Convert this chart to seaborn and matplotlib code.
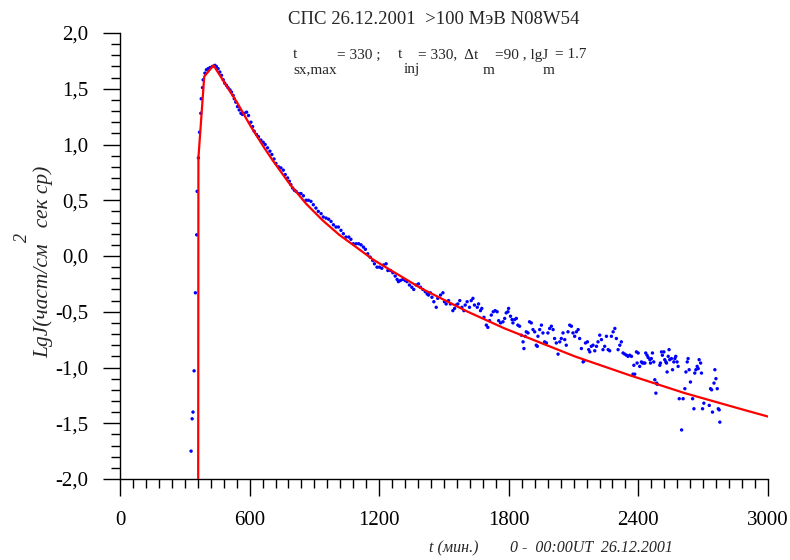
import matplotlib
matplotlib.use("Agg")
import matplotlib.pyplot as plt
import pandas as pd
import seaborn as sns
from matplotlib.ticker import FixedLocator, MultipleLocator, FuncFormatter

# ---- observed >100 MeV intensity (blue dots) ----
obs_t = [329, 334, 338, 343, 349, 355, 357, 363, 368, 374, 376, 382, 385, 393, 400, 408, 417,
         428, 439, 446, 454, 462, 470, 478, 485, 493, 500, 509, 516, 524, 529, 536, 544,
         552, 560, 567, 575, 586, 595, 606, 614, 621, 632, 641, 652, 663, 672, 683, 694, 703,
         713, 722, 734, 745, 756, 765, 776, 784, 791, 799, 807, 815, 827, 838, 849, 861, 872,
         884, 895, 907, 918, 931, 941, 954, 966, 977, 988, 1000, 1011, 1023, 1034, 1046, 1059,
         1069, 1080, 1093, 1105, 1116, 1127, 1136, 1147, 1158, 1170,
         1178, 1190, 1201, 1212, 1221, 1232, 1240, 1252, 1263, 1274, 1283, 1289, 1298, 1309,
         1320, 1329, 1340, 1351, 1360, 1371, 1382, 1391, 1402, 1413, 1422, 1428, 1437, 1444,
         1453, 1464, 1471, 1484, 1495, 1502, 1510, 1521, 1530, 1541, 1549, 1556, 1564, 1573,
         1583, 1592, 1598, 1607, 1618, 1626, 1634, 1641, 1654, 1660, 1669, 1675, 1685, 1696,
         1703, 1711, 1719, 1728, 1737, 1746, 1753, 1762, 1773,
         1781, 1788, 1796, 1799, 1808, 1815, 1819, 1827, 1835, 1842, 1850, 1858, 1866, 1870,
         1876, 1881, 1889, 1896, 1904, 1912, 1920, 1927, 1932, 1935, 1943, 1951, 1958, 1966,
         1974, 1981, 1989, 1997, 2005, 2012, 2020, 2028, 2036, 2043, 2051, 2059, 2066, 2074,
         2082, 2090, 2097, 2105, 2113, 2121, 2128, 2136, 2144, 2148, 2155, 2164, 2170, 2175,
         2182, 2190, 2198, 2206, 2213, 2221, 2229, 2236, 2244, 2252, 2260, 2267, 2275, 2283,
         2291, 2298, 2306, 2314, 2321, 2329, 2337, 2345, 2352,
         2360, 2368, 2375, 2379, 2383, 2391, 2394, 2399, 2406, 2414, 2419, 2425, 2430, 2434,
         2440, 2445, 2453, 2456, 2460, 2465, 2471, 2476, 2481, 2484, 2487, 2499, 2502, 2507,
         2511, 2518, 2522, 2527, 2530, 2533, 2538, 2542, 2545, 2553, 2558, 2564, 2569, 2573,
         2579, 2584, 2589, 2600, 2607, 2615, 2620, 2626, 2630, 2635, 2641, 2651, 2657, 2661,
         2666, 2672, 2677, 2681, 2688, 2692, 2697, 2703, 2728, 2734, 2739, 2743, 2750, 2754,
         2759, 2765, 2770, 2774, 2777]
obs_lgj = [-1.75, -1.46, -1.40, -1.03, -0.33, 0.19, 0.58, 0.88, 1.11, 1.28, 1.41, 1.51, 1.58,
           1.64, 1.67, 1.68, 1.69, 1.70, 1.71, 1.70, 1.68, 1.65, 1.62, 1.58, 1.55, 1.53, 1.51,
           1.49, 1.47, 1.44, 1.41, 1.38, 1.34,
           1.31, 1.28, 1.27, 1.28, 1.29, 1.26, 1.20, 1.16, 1.12, 1.09, 1.07, 1.04, 1.02, 1.00,
           0.97, 0.94, 0.91, 0.87, 0.83, 0.80, 0.79, 0.77, 0.73, 0.70, 0.67, 0.64, 0.61, 0.59,
           0.58, 0.56, 0.56, 0.54, 0.50, 0.50, 0.49, 0.46, 0.43, 0.40, 0.38, 0.35, 0.34, 0.33,
           0.31, 0.28, 0.26, 0.26, 0.23, 0.20, 0.17, 0.17, 0.15, 0.11, 0.11, 0.11, 0.10, 0.08,
           0.06, 0.02, -0.01, -0.04,
           -0.07, -0.10, -0.10, -0.11, -0.08, -0.07, -0.13, -0.13, -0.15, -0.18, -0.21, -0.23,
           -0.22, -0.21, -0.22, -0.23, -0.26, -0.28, -0.30, -0.26, -0.25, -0.28, -0.30, -0.32,
           -0.34, -0.35, -0.33, -0.37, -0.41, -0.46, -0.38, -0.35, -0.33, -0.41, -0.43, -0.40,
           -0.43, -0.49, -0.47, -0.44, -0.43, -0.40, -0.46, -0.49, -0.44, -0.41, -0.46, -0.40,
           -0.38, -0.44, -0.46, -0.43, -0.49, -0.47, -0.55, -0.62, -0.64, -0.58, -0.53, -0.50,
           -0.49, -0.50, -0.58, -0.60, -0.59,
           -0.56, -0.51, -0.50, -0.47, -0.54, -0.57, -0.60, -0.57, -0.56, -0.62, -0.63, -0.71,
           -0.77, -0.83, -0.72, -0.68, -0.69, -0.59, -0.60, -0.66, -0.68, -0.80, -0.81, -0.72,
           -0.66, -0.62, -0.69, -0.77, -0.78, -0.69, -0.65, -0.63, -0.66, -0.74, -0.78, -0.88,
           -0.77, -0.74, -0.69, -0.75, -0.80, -0.68, -0.62, -0.63, -0.69, -0.72, -0.68, -0.66,
           -0.74, -0.83, -0.95, -0.94, -0.78, -0.77, -0.84, -0.86, -0.81, -0.80, -0.85, -0.81,
           -0.77, -0.71, -0.75, -0.84, -0.81, -0.72, -0.84, -0.85, -0.72, -0.68, -0.65, -0.74,
           -0.84, -0.80, -0.77, -0.87, -0.88, -0.89, -0.90,
           -0.89, -0.90, -1.06, -0.98, -1.06, -0.86, -0.96, -0.87, -0.99, -0.95, -0.96, -0.96,
           -0.96, -0.87, -0.89, -0.91, -0.93, -0.96, -0.92, -0.87, -0.95, -1.11, -1.23, -1.14,
           -1.15, -0.98, -0.96, -0.86, -0.89, -0.86, -0.93, -0.95, -0.96, -1.04, -0.90, -0.84,
           -0.93, -0.92, -1.02, -0.95, -0.92, -0.90, -0.95, -0.99, -1.28, -1.56, -1.28, -1.19,
           -1.04, -0.95, -0.92, -1.02, -1.13, -1.28, -1.37, -1.05, -1.02, -0.99, -1.01, -0.93,
           -0.96, -1.05, -1.37, -1.32, -1.34, -1.19, -1.20, -1.40, -1.14, -1.02, -1.10, -1.19,
           -1.37, -1.38, -1.49]

# ---- model curve (red) ----
fit_t = [362, 363, 390, 433, 482, 544, 606, 668, 706, 784, 861, 938, 1015, 1093, 1170, 1247,
         1394, 1610, 1781, 2105, 2360, 2615, 2870, 3000]
fit_lgj = [-2.0, 0.88, 1.61, 1.71, 1.56, 1.37, 1.16, 0.97, 0.86, 0.65, 0.47, 0.32, 0.19, 0.08,
           -0.03, -0.12, -0.29, -0.50, -0.65, -0.90, -1.07, -1.23, -1.37, -1.44]

x_ticks = [0, 600, 1200, 1800, 2400, 3000]
y_ticks = [-2.0, -1.5, -1.0, -0.5, 0.0, 0.5, 1.0, 1.5, 2.0]

title = "СПС 26.12.2001  >100 МэВ N08W54"
xlabel_parts = ["t (мин.)", "0 -  00:00UT  26.12.2001"]
ylabel_main = "LgJ(част/см   сек ср)"

sns.set_style("ticks")
plt.rcParams['font.family'] = ['Liberation Serif', 'DejaVu Serif']

W, H = 790, 560
fig = plt.figure(figsize=(W / 100, H / 100), dpi=100)
ax = fig.add_axes([120 / W, (H - 479) / H, 648 / W, 446 / H])

obs = pd.DataFrame({"t": obs_t, "lgJ": obs_lgj})
fit = pd.DataFrame({"t": fit_t, "lgJ": fit_lgj})
sns.scatterplot(data=obs, x="t", y="lgJ", ax=ax, s=6, color="#0000ff",
                edgecolor="none", linewidth=0, zorder=2)
sns.lineplot(data=fit, x="t", y="lgJ", ax=ax, color="#ff0000", lw=1.6,
             sort=False, estimator=None, zorder=3)

ax.set_xlim(0, 3000)
ax.set_ylim(-2, 2)
ax.set_xlabel("")
ax.set_ylabel("")
sns.despine(ax=ax)
for sp in ("left", "bottom"):
    ax.spines[sp].set_color("black")
    ax.spines[sp].set_linewidth(1.0)

ax.xaxis.set_major_locator(FixedLocator(x_ticks))
ax.xaxis.set_minor_locator(MultipleLocator(60))
ax.yaxis.set_major_locator(FixedLocator(y_ticks))
ax.yaxis.set_minor_locator(MultipleLocator(0.1))
ax.xaxis.set_major_formatter(FuncFormatter(lambda v, _: f"{int(round(v))}"))
ax.yaxis.set_major_formatter(FuncFormatter(lambda v, _: f"{v:.1f}".replace(".", ",")))
ax.tick_params(which="major", direction="out", length=12, width=1.0, color="black",
               labelsize=15, labelcolor="black")
ax.tick_params(axis="y", which="major", pad=11)
ax.tick_params(axis="x", which="major", pad=11)
ax.tick_params(which="minor", direction="out", length=6.5, width=1.0, color="black")


def ftext(x, y, s, **kw):
    fig.text(x / W, 1 - y / H, s, **kw)


ftext(434, 20, title, ha="center", va="center", fontsize=13.5)
# parameter line with lowered subscripts
pfs = 11
ftext(293, 55, "t", ha="left", va="center", fontsize=pfs)
ftext(293, 70, "sx,max", ha="left", va="center", fontsize=pfs)
ftext(337, 55, "= 330 ;", ha="left", va="center", fontsize=pfs)
ftext(398, 55, "t", ha="left", va="center", fontsize=pfs)
ftext(404, 69, "inj", ha="left", va="center", fontsize=pfs)
ftext(418, 55, "= 330,  Δt", ha="left", va="center", fontsize=pfs)
ftext(483, 70, "m", ha="left", va="center", fontsize=pfs)
ftext(495, 55, "=90 , lgJ", ha="left", va="center", fontsize=pfs)
ftext(543, 70, "m", ha="left", va="center", fontsize=pfs)
ftext(555, 55, "= 1.7", ha="left", va="center", fontsize=pfs)

# axis titles
ftext(429, 548, xlabel_parts[0], ha="left", va="center", fontsize=11.5, style="italic")
ftext(510, 548, xlabel_parts[1], ha="left", va="center", fontsize=11.5, style="italic")
ftext(43, 262, ylabel_main, ha="center", va="center", rotation=90, fontsize=15.5,
      style="italic")
ftext(22, 237, "2", ha="center", va="center", rotation=90, fontsize=13, style="italic")

fig.savefig("out.png", dpi=100)
